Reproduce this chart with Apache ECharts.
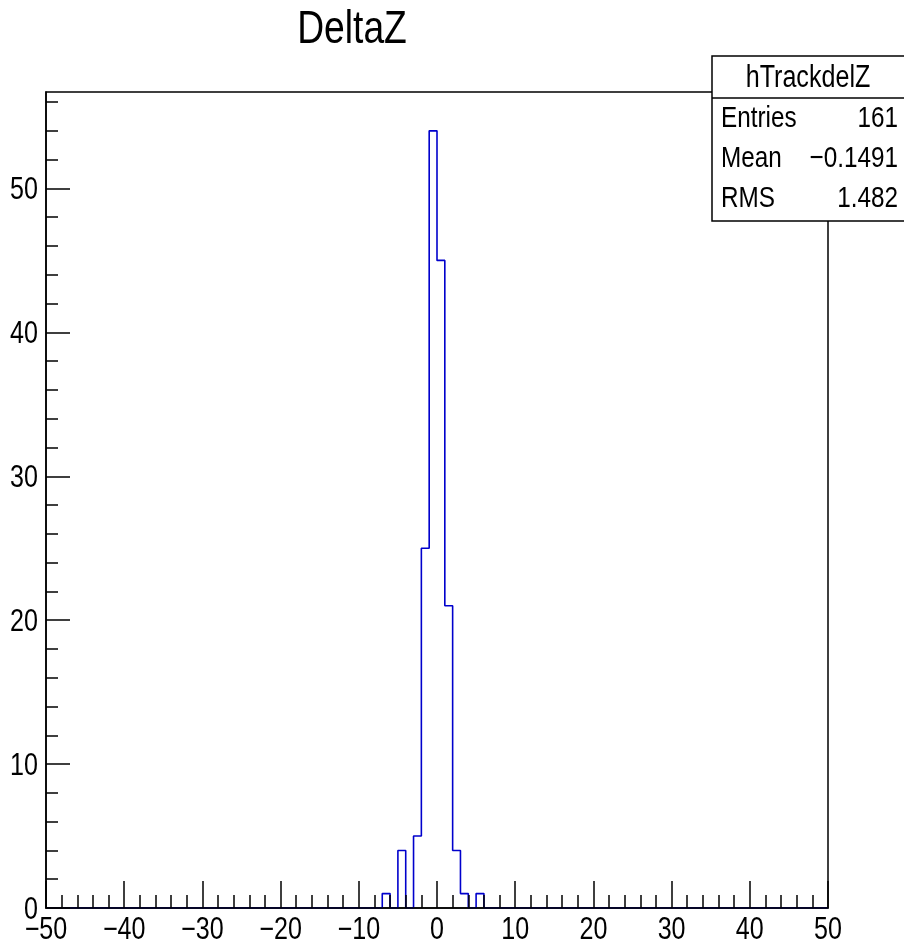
<!DOCTYPE html>
<html>
<head>
<meta charset="utf-8">
<script src="https://cdn.jsdelivr.net/npm/echarts@6/dist/echarts.min.js"></script>
<style>
  html, body { margin: 0; padding: 0; background: #fff; }
  #main { width: 904px; height: 949px; }
</style>
</head>
<body>
<div id="main"></div>
<script>
// histogram hTrackdelZ: 100 bins of width 1 from -50 to 50
var binLowEdges = [-7, -5, -3, -2, -1, 0, 1, 2, 3, 5];
var binCounts = [1, 4, 5, 25, 54, 45, 21, 4, 1, 1];
var xMin = -50, xMax = 50, binWidth = 1;
var yMax = 56.7;
var xTickValues = [-50, -40, -30, -20, -10, 0, 10, 20, 30, 40, 50];
var yMajorTicks = [0, 10, 20, 30, 40, 50];
var yMinorTicks = [2, 4, 6, 8, 12, 14, 16, 18, 22, 24, 26, 28, 32, 34, 36, 38, 42, 44, 46, 48, 52, 54, 56];
var statsLabels = ['Entries', 'Mean', 'RMS'];
var statsValues = ['161', '\u22120.1491', '1.482'];

// ROOT draws with a narrow helvetica, so texts get squeezed horizontally
var FONT = "'Liberation Sans', Arial, sans-serif";
var NARROW = 0.81;

// fill every bin (empty ones are 0) and turn into step points at the bin edges
var stepData = [];
var nBins = (xMax - xMin) / binWidth;
var last = 0;
for (var i = 0; i < nBins; i++) {
  var lo = xMin + i * binWidth;
  var k = binLowEdges.indexOf(lo);
  last = k >= 0 ? binCounts[k] : 0;
  stepData.push([lo, last]);
}
stepData.push([xMax, last]);

function minus(v) {
  return String(v).replace('-', '\u2212');
}

function narrowText(str, x, y, size, align) {
  return {
    type: 'text', x: x, y: y, scaleX: NARROW, z: 101,
    style: { text: str, x: 0, y: 0, align: align, verticalAlign: 'middle',
             font: size + 'px ' + FONT, fill: '#000' }
  };
}

var myChart = echarts.init(document.getElementById('main'));

var option = {
  animation: false,
  backgroundColor: '#fff',
  grid: {
    left: 46, right: 76, top: 92, bottom: 41,
    show: true, borderColor: '#000', borderWidth: 1.5, backgroundColor: 'transparent'
  },
  xAxis: {
    type: 'value',
    min: xMin, max: xMax, interval: 10,
    z: 5,
    axisLine: { show: true, onZero: false, lineStyle: { color: '#000', width: 1.5 } },
    axisTick: { show: true, inside: true, length: 27, lineStyle: { color: '#000', width: 1.5 } },
    minorTick: { show: true, splitNumber: 5, length: 13, lineStyle: { color: '#000', width: 1.5 } },
    splitLine: { show: false },
    axisLabel: { show: false }
  },
  yAxis: [{
    type: 'value',
    min: 0, max: yMax,
    position: 'left',
    z: 5,
    axisLine: { show: true, onZero: false, lineStyle: { color: '#000', width: 1.5 } },
    axisTick: { show: true, inside: true, length: 24, customValues: yMajorTicks,
                lineStyle: { color: '#000', width: 1.5 } },
    splitLine: { show: false },
    axisLabel: { show: false }
  }, {
    type: 'value',
    min: 0, max: yMax,
    position: 'left',
    z: 5,
    axisLine: { show: false, onZero: false },
    axisTick: { show: true, inside: true, length: 12, customValues: yMinorTicks,
                lineStyle: { color: '#000', width: 1.5 } },
    splitLine: { show: false },
    axisLabel: { show: false }
  }],
  series: [{
    name: 'hTrackdelZ',
    type: 'line',
    step: 'end',
    yAxisIndex: 0,
    data: stepData,
    symbol: 'none',
    lineStyle: { color: '#0000cc', width: 1.6 }
  }]
};

myChart.setOption(option);

// tick labels, placed through the axes' own scales
var graphics = [];
xTickValues.forEach(function (v) {
  var px = myChart.convertToPixel({ xAxisIndex: 0 }, v);
  graphics.push(narrowText(minus(v), px, 930, 31, 'center'));
});
yMajorTicks.forEach(function (v) {
  var py = myChart.convertToPixel({ yAxisIndex: 0 }, v);
  graphics.push(narrowText(String(v), 38, py + 2, 31, 'right'));
});

// title
graphics.push(narrowText('DeltaZ', 352, 30, 46, 'center'));

// stats box
graphics.push({
  type: 'rect', z: 100,
  shape: { x: 712, y: 56, width: 220, height: 165 },
  style: { fill: '#fff', stroke: '#000', lineWidth: 1.5 }
});
graphics.push({
  type: 'line', z: 100,
  shape: { x1: 712, y1: 98, x2: 904, y2: 98 },
  style: { stroke: '#000', lineWidth: 1.5 }
});
graphics.push(narrowText('hTrackdelZ', 808, 78, 31, 'center'));
for (var j = 0; j < statsLabels.length; j++) {
  graphics.push(narrowText(statsLabels[j], 721, 119 + j * 40, 30, 'left'));
  graphics.push(narrowText(statsValues[j], 898, 119 + j * 40, 30, 'right'));
}

myChart.setOption({ graphic: graphics });
</script>
</body>
</html>
